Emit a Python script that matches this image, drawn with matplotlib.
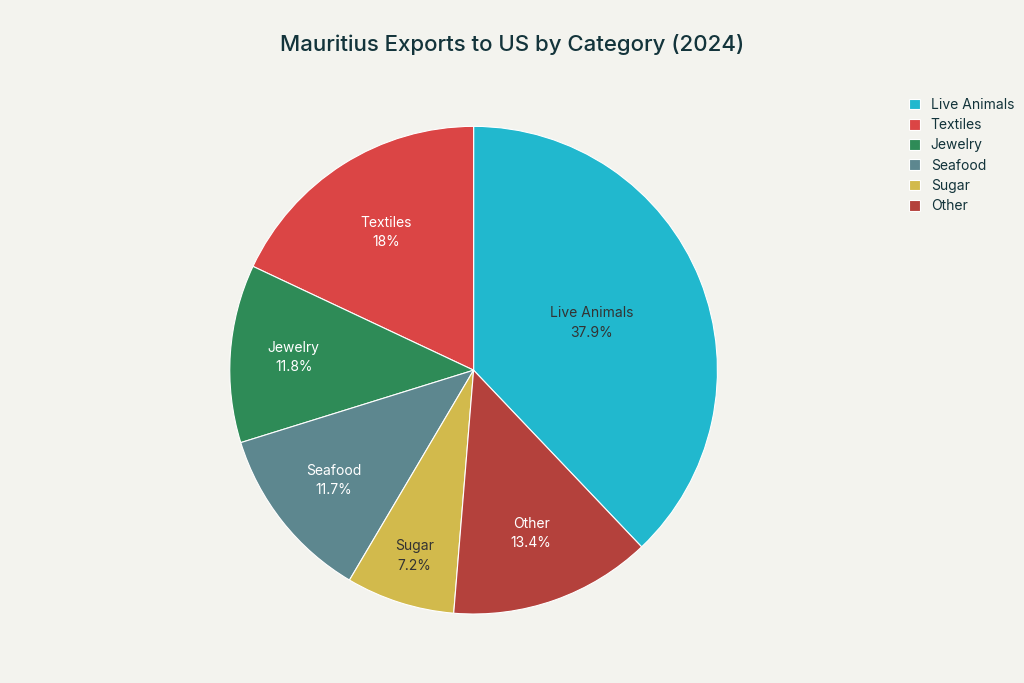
import numpy as np
import matplotlib.pyplot as plt

categories = ['Live Animals', 'Textiles', 'Jewelry', 'Seafood', 'Sugar', 'Other']
shares = [37.9, 18.0, 11.8, 11.7, 7.2, 13.4]
pct_labels = ['37.9%', '18%', '11.8%', '11.7%', '7.2%', '13.4%']
colors = ['#21B8CE', '#DB4545', '#2E8B57', '#5D878F', '#D2BA4C', '#B4413C']
text_colors = ['#333333', 'white', 'white', 'white', '#333333', 'white']
label_dist = [0.52, 0.67, 0.74, 0.73, 0.8, 0.71]

plt.rcParams['font.family'] = 'Inter'
bg = '#F3F3EE'
fig = plt.figure(figsize=(10.24, 6.83), dpi=100, facecolor=bg)
ax = fig.add_axes([0.224, 0.101, 0.477, 0.714])
ax.set_facecolor(bg)

start = 90 - shares[0] / 100 * 360
wedges, _ = ax.pie(shares, colors=colors, startangle=start, counterclock=True,
                   wedgeprops=dict(linewidth=0.8, edgecolor='white'))
ax.set_aspect('equal')
ax.set_xlim(-1, 1)
ax.set_ylim(-1, 1)

for w, cat, pct, tc, d in zip(wedges, categories, pct_labels, text_colors, label_dist):
    ang = np.deg2rad((w.theta1 + w.theta2) / 2)
    ax.text(d * np.cos(ang), d * np.sin(ang), f'{cat}\n{pct}', ha='center', va='center',
            color=tc, fontsize=10, linespacing=1.5)

fig.text(0.5, 0.935, 'Mauritius Exports to US by Category (2024)', ha='center', va='center',
         fontsize=16, color='#13343B', fontweight='medium')

fig.legend(wedges, categories, loc='upper left', bbox_to_anchor=(0.875, 0.875), frameon=False,
           fontsize=10, handlelength=0.8, handleheight=0.8, handletextpad=0.8,
           labelspacing=0.45, labelcolor='#13343B')

fig.savefig('out.png', dpi=100, facecolor=bg)
